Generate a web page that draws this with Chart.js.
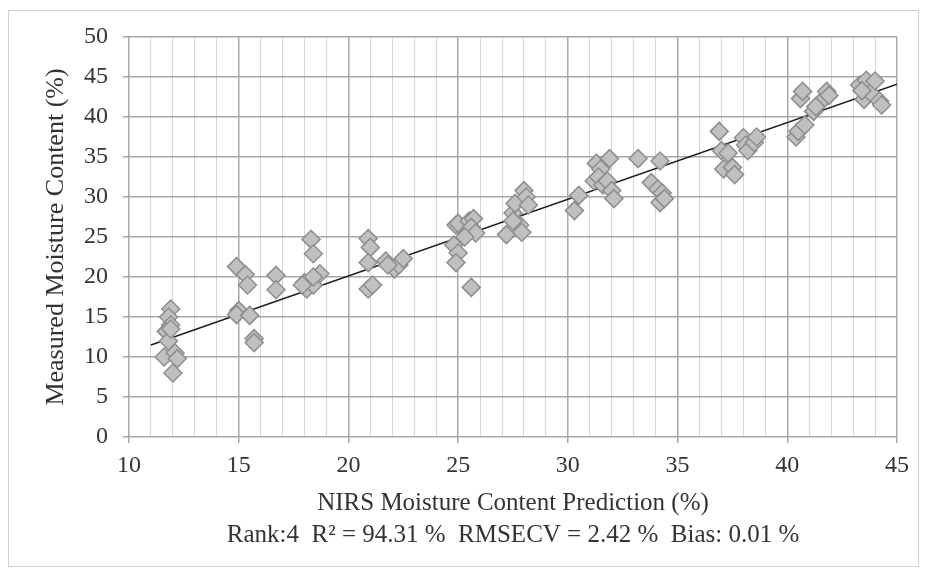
<!DOCTYPE html>
<html>
<head>
<meta charset="utf-8">
<script src="https://cdn.jsdelivr.net/npm/chart.js@4/dist/chart.umd.min.js"></script>
<style>
	body { margin: 0; background: #fff; }
	#wrap { width: 927px; height: 570px; }
</style>
</head>
<body>
<div id="wrap"><canvas id="nirs"></canvas></div>
<script>
// predicted (x) vs measured (y) moisture content
const predX = [
	11.9, 11.8, 11.9, 11.7, 11.8, 11.6, 12.1, 12.2, 12.0, 11.9,
	14.9, 15.3, 15.4, 15.0, 14.9, 15.5, 15.7, 15.7,
	16.7, 16.7,
	18.3, 18.4, 18.0, 18.1, 18.4, 18.7, 18.4, 17.9,
	20.9, 21.0, 20.9, 20.9, 21.1, 21.7, 22.1, 22.3, 22.5, 21.8,
	24.9, 25.0, 24.8, 25.0, 24.9, 25.4, 25.5, 25.7, 25.6, 25.8, 25.6, 25.3,
	27.2, 27.5, 27.6, 27.8, 27.9, 28.0, 28.1, 28.2, 27.5,
	30.3, 30.5,
	31.3, 31.5, 31.2, 31.4, 31.6, 31.9, 31.8, 32.0, 32.1,
	33.2, 33.8, 34.2, 34.1, 34.3, 34.2, 34.4,
	36.9, 37.0, 37.1, 37.5, 37.6, 37.3, 38.0, 38.1, 38.2, 38.5, 38.6,
	40.4, 40.5, 40.6, 40.7, 40.8, 41.2, 41.5, 41.8, 41.9, 41.3,
	43.3, 43.5, 43.6, 43.8, 44.0, 44.2, 44.3, 43.4
];
const measY = [
	16.0, 15.0, 14.0, 13.2, 12.0, 10.0, 10.5, 9.8, 8.0, 13.5,
	21.3, 20.3, 19.0, 15.8, 15.3, 15.2, 12.3, 11.8,
	20.2, 18.4,
	24.7, 22.9, 19.3, 18.5, 19.0, 20.4, 20.0, 19.0,
	24.8, 23.7, 21.8, 18.5, 19.0, 22.0, 21.0, 21.5, 22.3, 21.5,
	26.5, 26.7, 24.0, 23.0, 21.8, 25.5, 27.0, 27.3, 26.2, 25.5, 18.7, 25.0,
	25.3, 28.0, 29.2, 26.5, 25.6, 30.8, 30.0, 29.0, 27.0,
	28.3, 30.2,
	34.2, 33.5, 32.0, 32.5, 31.5, 34.8, 32.0, 30.8, 29.8,
	34.8, 31.8, 34.5, 31.0, 30.5, 29.3, 29.8,
	38.2, 35.8, 33.5, 33.7, 32.8, 35.5, 37.4, 36.5, 35.8, 36.8, 37.5,
	37.5, 38.2, 42.3, 43.2, 39.0, 40.7, 41.8, 43.2, 42.7, 41.3,
	44.0, 42.2, 44.6, 43.0, 44.5, 42.0, 41.5, 43.3
];
// fitted line end points
const fitX = [11, 45];
const fitY = [11.5, 44.1];

const xTitle = ['NIRS Moisture Content Prediction (%)', 'Rank:4  R\u00b2 = 94.31 %  RMSECV = 2.42 %  Bias: 0.01 %'];
const yTitle = 'Measured Moisture Content (%)';

const serif = 'Liberation Serif';

// faint frame round the figure
const framePlugin = {
	id: 'frame',
	beforeDraw(chart) {
		const ctx = chart.ctx;
		ctx.save();
		ctx.fillStyle = '#fff';
		ctx.fillRect(0, 0, chart.width, chart.height);
		ctx.strokeStyle = '#d0d0d0';
		ctx.lineWidth = 1;
		ctx.strokeRect(8.5, 10.5, 910, 556);
		ctx.restore();
	}
};

const isMajor = (c) => c.tick && c.tick.value % 5 === 0;

new Chart(document.getElementById('nirs'), {
	type: 'scatter',
	data: {
		datasets: [
			{
				label: 'samples',
				data: predX.map((x, i) => ({ x: x, y: measY[i] })),
				pointStyle: 'rectRot',
				pointRadius: 9,
				pointBackgroundColor: '#c0c0c0',
				pointBorderColor: '#8e8e8e',
				pointBorderWidth: 1.5
			},
			{
				type: 'line',
				label: 'fit',
				data: fitX.map((x, i) => ({ x: x, y: fitY[i] })),
				borderColor: '#1e1e1e',
				borderWidth: 1.5,
				pointRadius: 0,
				fill: false
			}
		]
	},
	options: {
		responsive: true,
		maintainAspectRatio: false,
		animation: false,
		layout: {
			padding: { left: 0, right: 30, top: 37, bottom: 0 }
		},
		plugins: {
			legend: { display: false },
			tooltip: { enabled: false }
		},
		scales: {
			x: {
				type: 'linear',
				min: 10,
				max: 45,
				afterFit(scale) { scale.height = 133; },
				ticks: {
					stepSize: 1,
					autoSkip: false,
					maxRotation: 0,
					padding: 8,
					color: '#333',
					font: { family: serif, size: 24 },
					callback: (v) => (v % 5 === 0 ? v : '')
				},
				grid: {
					color: (c) => (isMajor(c) ? '#a8a8a8' : '#d6d6d6'),
					lineWidth: (c) => (isMajor(c) ? 1.5 : 1),
					tickColor: (c) => (isMajor(c) ? '#a8a8a8' : 'rgba(0,0,0,0)'),
					tickLength: 6
				},
				border: { display: false },
				title: {
					display: true,
					text: xTitle,
					color: '#333',
					font: { family: serif, size: 25, lineHeight: 1.28 },
					padding: { top: 0, bottom: 19 }
				}
			},
			y: {
				min: 0,
				max: 50,
				afterFit(scale) { scale.width = 129; },
				ticks: {
					stepSize: 5,
					padding: 15,
					color: '#333',
					font: { family: serif, size: 24 }
				},
				grid: {
					color: '#a8a8a8',
					lineWidth: 1.5,
					tickColor: '#a8a8a8',
					tickLength: 6
				},
				border: { display: false },
				title: {
					display: true,
					text: yTitle,
					color: '#333',
					font: { family: serif, size: 26, lineHeight: 1.2 },
					padding: { top: 41, bottom: 0 }
				}
			}
		}
	},
	plugins: [framePlugin]
});
</script>
</body>
</html>
